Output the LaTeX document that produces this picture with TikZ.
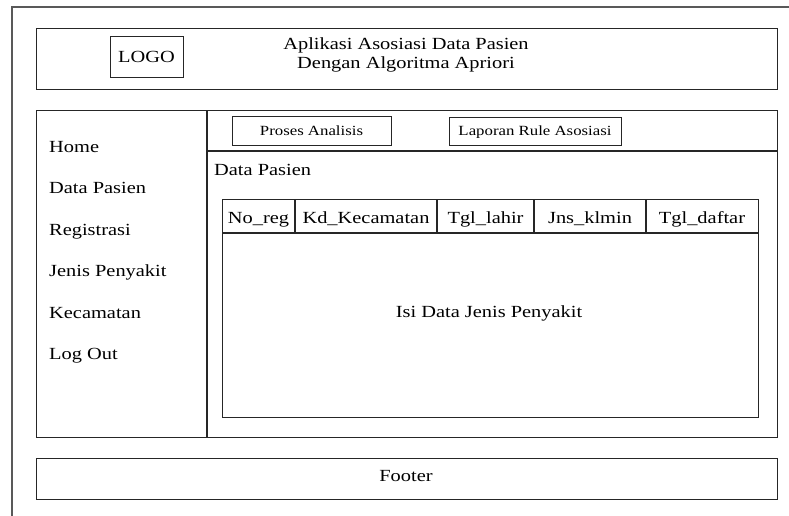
\documentclass[tikz,border=0pt]{standalone}
\usepackage{fontspec}
\setmainfont[FakeStretch=1.2]{Liberation Serif}
\begin{document}
\begin{tikzpicture}[x=1pt,y=-1pt,
  frame/.style={draw=black!85,line width=1.3pt},
  box/.style={draw=black!85,line width=1.1pt,rectangle,inner sep=0pt,anchor=north west},
  lbl/.style={font=\fontsize{17}{20}\selectfont,inner sep=0pt,anchor=base},
  small/.style={font=\fontsize{14}{16}\selectfont,inner sep=0pt,anchor=base},
  menu/.style={lbl,anchor=base west}]
\useasboundingbox (0,0) rectangle (789,515);
\clip (0,0) rectangle (789,515);
% page border
\draw[draw=black!65,line width=1.2pt] (12,7) rectangle (820,540);
% header
\node[box,minimum width=741pt,minimum height=61pt] (header) at (36,28) {};
\node[box,minimum width=73pt,minimum height=41pt] (logobox) at (110,36) {};
\node[lbl] (logo) at (146.5,62) {LOGO};
\node[lbl] (title1) at (406,49.5) {Aplikasi Asosiasi Data Pasien};
\node[lbl] (title2) at (406,68.5) {Dengan Algoritma Apriori};
% main area
\node[box,minimum width=741pt,minimum height=327pt] (main) at (36,110) {};
\coordinate (divtop) at (207,110);
\coordinate (divbot) at (207,437);
\draw[frame] (divtop) -- (divbot);
\coordinate (tabl) at (207,151);
\coordinate (tabr) at (777,151);
\draw[frame] (tabl) -- (tabr);
% tab buttons
\node[box,minimum width=159pt,minimum height=29pt] (bproses) at (232,116) {};
\node[small] (tproses) at (311.5,135) {Proses Analisis};
\node[box,minimum width=172pt,minimum height=28pt] (blaporan) at (449,117) {};
\node[small] (tlaporan) at (535,135) {Laporan Rule Asosiasi};
% sidebar menu
\node[menu] (m1) at (49,152) {Home};
\node[menu] (m2) at (49,193.5) {Data Pasien};
\node[menu] (m3) at (49,235) {Registrasi};
\node[menu] (m4) at (49,276.5) {Jenis Penyakit};
\node[menu] (m5) at (49,318) {Kecamatan};
\node[menu] (m6) at (49,359) {Log Out};
% content
\node[lbl,anchor=base west] (ctitle) at (214,175) {Data Pasien};
\node[box,minimum width=536pt,minimum height=218pt] (table) at (222,199) {};
\coordinate (hl) at (222,233);
\coordinate (hr) at (758,233);
\draw[frame] (hl) -- (hr);
\foreach \x/\n in {295/c1,437/c2,534/c3,646/c4}{
  \coordinate (\n t) at (\x,199);
  \coordinate (\n b) at (\x,233);
  \draw[frame] (\n t) -- (\n b);
}
\node[lbl] (h1) at (258.5,223) {No\_reg};
\node[lbl] (h2) at (366,223) {Kd\_Kecamatan};
\node[lbl] (h3) at (485.5,223) {Tgl\_lahir};
\node[lbl] (h4) at (590,223) {Jns\_klmin};
\node[lbl] (h5) at (702,223) {Tgl\_daftar};
\node[lbl] (isi) at (489,317) {Isi Data Jenis Penyakit};
% footer
\node[box,minimum width=741pt,minimum height=41pt] (footer) at (36,458) {};
\node[lbl] (ftext) at (406,481) {Footer};
\end{tikzpicture}
\end{document}
